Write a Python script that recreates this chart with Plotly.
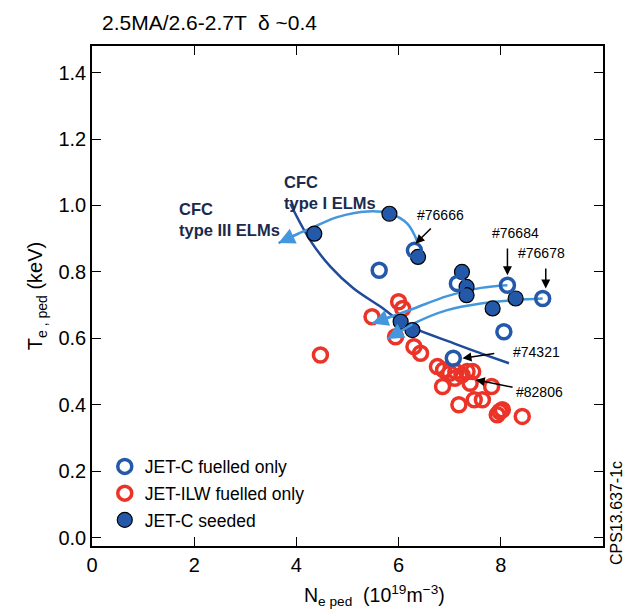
import plotly.graph_objects as go

# ---- data ----
jetc_fuel_x = [5.62, 6.31, 7.15, 8.13, 8.82, 8.06, 7.07]
jetc_fuel_y = [0.805, 0.865, 0.765, 0.76, 0.72, 0.62, 0.54]

ilw_x = [4.47, 5.48, 6.00, 6.08, 5.94, 6.30, 6.43, 6.76, 6.88, 7.00, 7.12, 7.24, 7.34,
         7.45, 7.40, 6.86, 7.10, 7.18, 7.48, 7.64, 7.82, 7.93, 8.03, 7.98, 8.42]
ilw_y = [0.55, 0.665, 0.71, 0.69, 0.605, 0.575, 0.555, 0.515, 0.505, 0.495, 0.50, 0.49, 0.50,
         0.50, 0.465, 0.455, 0.48, 0.40, 0.415, 0.415, 0.455, 0.37, 0.385, 0.38, 0.365]

seed_x = [4.35, 5.82, 6.38, 7.24, 7.33, 7.33, 8.29, 7.84, 6.04, 6.27]
seed_y = [0.915, 0.975, 0.845, 0.80, 0.755, 0.73, 0.72, 0.69, 0.65, 0.625]

trend_x = [3.88, 4.27, 4.67, 5.12, 5.65, 6.10, 7.08, 7.61, 8.16]
trend_y = [1.005, 0.895, 0.815, 0.750, 0.695, 0.645, 0.585, 0.555, 0.525]

arcA_x = [6.37, 6.17, 5.84, 5.39, 4.80, 4.34, 4.08, 3.65]
arcA_y = [0.89, 0.945, 0.975, 0.982, 0.965, 0.935, 0.918, 0.887]

arcB_x = [8.13, 7.61, 6.95, 6.30, 5.85, 5.48]
arcB_y = [0.76, 0.752, 0.727, 0.69, 0.665, 0.645]

arcC_x = [8.82, 8.26, 7.61, 6.95, 6.30, 5.78]
arcC_y = [0.72, 0.715, 0.705, 0.685, 0.645, 0.598]

shot_labels = ["#76666", "#76684", "#76678", "#74321", "#82806"]
shot_text_x = [6.33, 7.78, 8.30, 8.19, 8.26]
shot_text_y = [0.972, 0.917, 0.857, 0.56, 0.44]
shot_tail_x = [6.66, 8.13, 8.88, 7.90, 8.26]
shot_tail_y = [0.935, 0.875, 0.815, 0.555, 0.452]
shot_tip_x = [6.33, 8.13, 8.88, 7.25, 7.51]
shot_tip_y = [0.885, 0.79, 0.75, 0.54, 0.475]

region_lines = [["CFC", "type I ELMs"], ["CFC", "type III ELMs"]]
region_x = [3.72, 1.66]
region_y = [[1.07, 1.008], [0.99, 0.925]]

x_ticks = [0, 2, 4, 6, 8, 10]
x_ticklabels = ["0", "2", "4", "6", "8", ""]
y_ticks = [0.0, 0.2, 0.4, 0.6, 0.8, 1.0, 1.2, 1.4]
y_ticklabels = ["0.0", "0.2", "0.4", "0.6", "0.8", "1.0", "1.2", "1.4"]

# ---- styles ----
BLUE = "#2458a8"
RED = "#ec3328"
NAVY = "#1f4b9a"
LIGHT = "#4497dc"
FONT = "Liberation Sans, Arial, sans-serif"

fig = go.Figure()

fig.add_trace(go.Scatter(x=ilw_x, y=ilw_y, mode="markers", name="JET-ILW fuelled only",
                         legendrank=2, legendgroup="b",
                         marker=dict(symbol="circle-open", size=14, color=RED,
                                     line=dict(width=3.5, color=RED))))
fig.add_trace(go.Scatter(x=trend_x, y=trend_y, mode="lines", showlegend=False,
                         line=dict(color=NAVY, width=2.5, shape="spline"), hoverinfo="skip"))
for ax_, ay_ in [(arcA_x, arcA_y), (arcB_x, arcB_y), (arcC_x, arcC_y)]:
    fig.add_trace(go.Scatter(x=ax_, y=ay_, mode="lines", showlegend=False,
                             line=dict(color=LIGHT, width=2.5, shape="spline"), hoverinfo="skip"))
fig.add_trace(go.Scatter(x=seed_x, y=seed_y, mode="markers", name="JET-C seeded",
                         legendrank=3, legendgroup="c",
                         marker=dict(symbol="circle", size=15, color=BLUE,
                                     line=dict(width=1.2, color="black"))))
fig.add_trace(go.Scatter(x=jetc_fuel_x, y=jetc_fuel_y, mode="markers", name="JET-C fuelled only",
                         legendrank=1, legendgroup="a",
                         marker=dict(symbol="circle-open", size=14, color=BLUE,
                                     line=dict(width=3.5, color=BLUE))))

annotations = []
# light-blue arrow heads
for ax_, ay_ in [(arcA_x, arcA_y), (arcB_x, arcB_y), (arcC_x, arcC_y)]:
    annotations.append(dict(x=ax_[-1], y=ay_[-1], ax=ax_[-2], ay=ay_[-2],
                            xref="x", yref="y", axref="x", ayref="y", text="",
                            showarrow=True, arrowhead=2, arrowsize=1.3, arrowwidth=2.5,
                            arrowcolor=LIGHT, standoff=0, startstandoff=0))
# black shot arrows + labels
for lab, tx, ty, sx, sy, ex, ey in zip(shot_labels, shot_text_x, shot_text_y,
                                       shot_tail_x, shot_tail_y, shot_tip_x, shot_tip_y):
    annotations.append(dict(x=ex, y=ey, ax=sx, ay=sy, xref="x", yref="y", axref="x", ayref="y",
                            text="", showarrow=True, arrowhead=2, arrowsize=1.2, arrowwidth=1.5,
                            arrowcolor="black", standoff=0))
    annotations.append(dict(x=tx, y=ty, xref="x", yref="y", text=lab, showarrow=False,
                            xanchor="left", yanchor="middle",
                            font=dict(family=FONT, size=14, color="black")))

# region labels (one annotation per line, left aligned)
for lines, rx, rys in zip(region_lines, region_x, region_y):
    for txt, ry in zip(lines, rys):
        annotations.append(dict(x=rx, y=ry, xref="x", yref="y", xanchor="left", yanchor="middle",
                                showarrow=False, text="<b>" + txt + "</b>",
                                font=dict(family=FONT, size=16.5, color="#1b2a4c")))

annotations.append(dict(x=0.015, y=1.0, xref="paper", yref="paper", yshift=24,
                        xanchor="left", yanchor="middle", showarrow=False,
                        text="2.5MA/2.6-2.7T  \u03b4 ~0.4",
                        font=dict(family=FONT, size=21, color="black")))
annotations.append(dict(x=1.0, y=0.066, xref="paper", yref="paper", xshift=13,
                        xanchor="center", yanchor="middle", showarrow=False, textangle=-90,
                        text="CPS13.637-1c",
                        font=dict(family=FONT, size=16, color="black")))
# x-axis title (centred as in the reference, right of the plot centre)
annotations.append(dict(x=0.553, y=0.0, xref="paper", yref="paper", yshift=-49,
                        xanchor="center", yanchor="middle", showarrow=False,
                        text="N<sub>e ped</sub>  (10<sup>19</sup>m<sup>\u22123</sup>)",
                        font=dict(family=FONT, size=19.5, color="black")))

fig.update_layout(
    width=627, height=609,
    margin=dict(l=92, r=24, t=46, b=63),
    paper_bgcolor="white", plot_bgcolor="white",
    font=dict(family=FONT, size=19, color="black"),
    showlegend=True,
    legend=dict(x=0.025, y=0.195, xanchor="left", yanchor="top",
                bgcolor="rgba(0,0,0,0)", traceorder="grouped", tracegroupgap=1,
                font=dict(family=FONT, size=17.5, color="black"), itemwidth=30),
    annotations=annotations,
    xaxis=dict(range=[0, 10], tickvals=x_ticks, ticktext=x_ticklabels,
               ticks="inside", ticklen=9, tickwidth=1.3, tickcolor="black",
               showline=True, linecolor="black", linewidth=1.5, mirror="ticks",
               showgrid=False, zeroline=False,
               tickfont=dict(family=FONT, size=20)),
    yaxis=dict(range=[-0.025, 1.48], tickvals=y_ticks, ticktext=y_ticklabels,
               ticks="inside", ticklen=9, tickwidth=1.3, tickcolor="black",
               showline=True, linecolor="black", linewidth=1.5, mirror="ticks",
               showgrid=False, zeroline=False,
               tickfont=dict(family=FONT, size=20),
               title=dict(text="T<sub>e , ped</sub> (keV)",
                          font=dict(family=FONT, size=20), standoff=10)),
)

fig.write_html("out.html")
